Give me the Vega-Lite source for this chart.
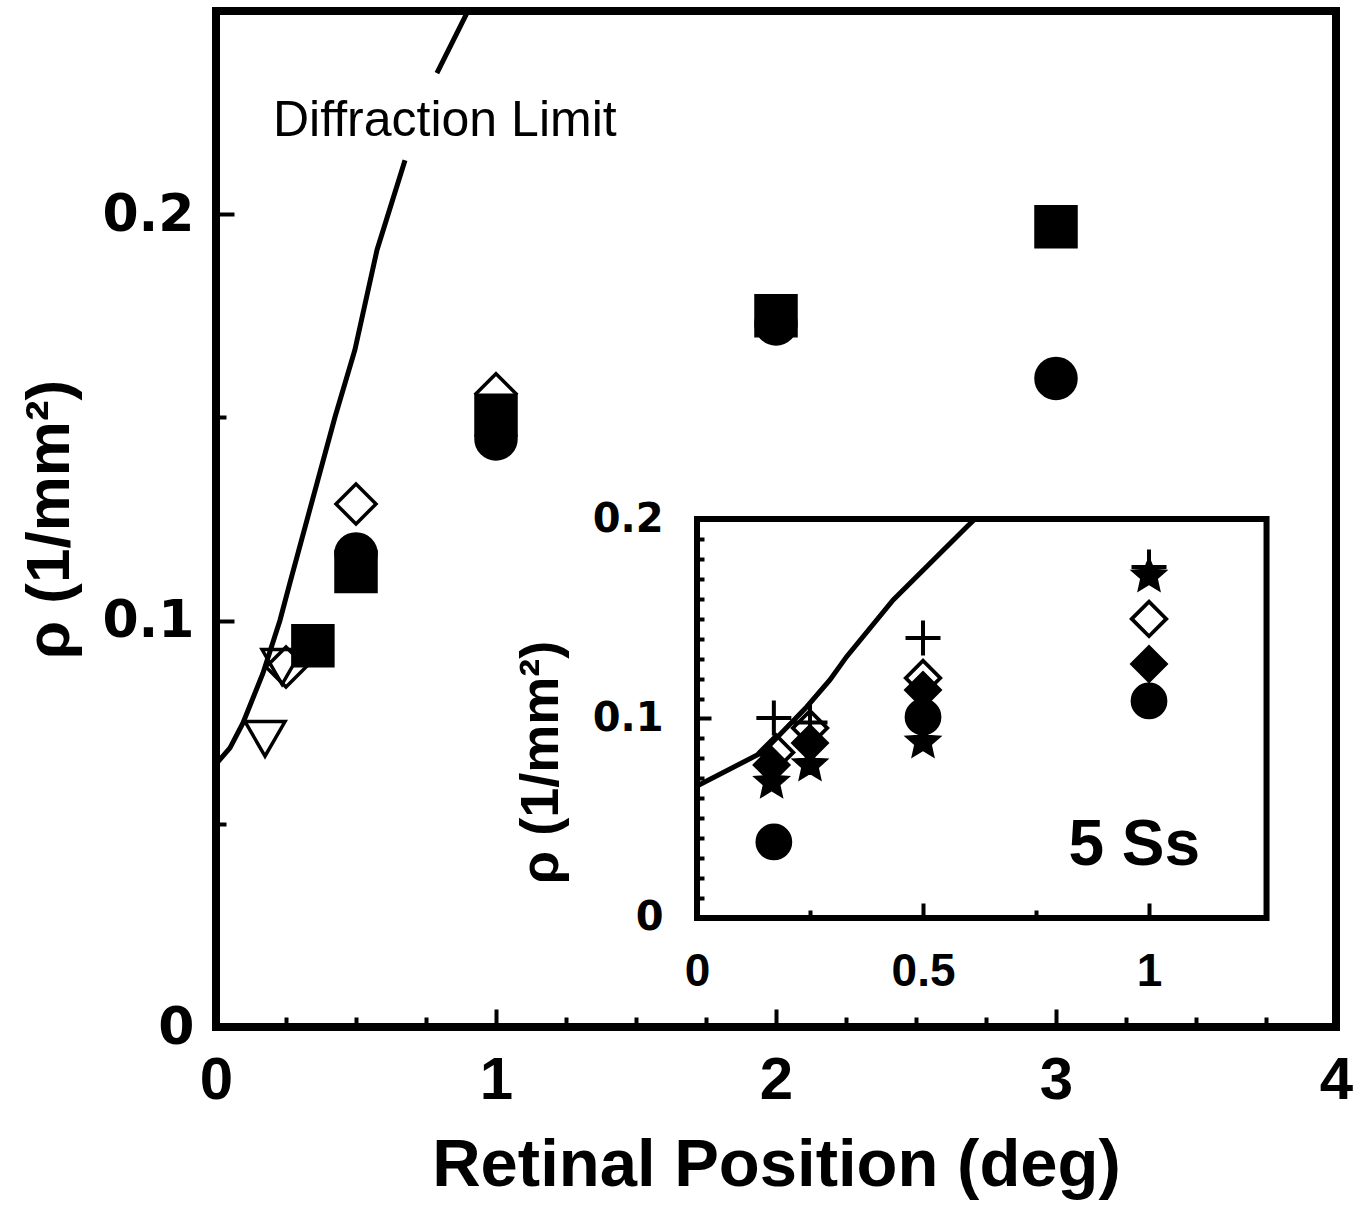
{
  "$schema": "https://vega.github.io/schema/vega-lite/v6.json",
  "width": 1120,
  "height": 1016,
  "autosize": "none",
  "padding": {"left": 216, "top": 11, "right": 32, "bottom": 184},
  "background": "white",
  "config": {
    "view": {"stroke": "black", "strokeWidth": 8},
    "axis": {"grid": false, "domain": false, "tickColor": "black", "labelColor": "black", "titleColor": "black", "tickWidth": 4, "labelOverlap": false, "labelFlush": false}
  },
  "datasets": {
    "diffr": [
      {"x": 0, "y": 0.0647, "seg": "a"},
      {"x": 0.05, "y": 0.0687, "seg": "a"},
      {"x": 0.0964, "y": 0.0748, "seg": "a"},
      {"x": 0.168, "y": 0.0871, "seg": "a"},
      {"x": 0.2286, "y": 0.1001, "seg": "a"},
      {"x": 0.264, "y": 0.1093, "seg": "a"},
      {"x": 0.361, "y": 0.1339, "seg": "a"},
      {"x": 0.425, "y": 0.1501, "seg": "a"},
      {"x": 0.496, "y": 0.1666, "seg": "a"},
      {"x": 0.575, "y": 0.1912, "seg": "a"},
      {"x": 0.675, "y": 0.2133, "seg": "a"},
      {"x": 0.789, "y": 0.2347, "seg": "b"},
      {"x": 0.896, "y": 0.2495, "seg": "b"},
      {"x": 0.902, "y": 0.25, "seg": "b"}
    ],
    "mainLabel": [{"x": 0.2036, "y": 0.2192, "t": "Diffraction Limit"}],
    "mainPts": [
      {"s": "tri", "x": 0.175, "y": 0.0709},
      {"s": "tri", "x": 0.236, "y": 0.0886},
      {"s": "odia", "x": 0.25, "y": 0.0886},
      {"s": "odia", "x": 0.5, "y": 0.1287},
      {"s": "odia", "x": 1.0, "y": 0.1558},
      {"s": "circ", "x": 0.5, "y": 0.1164},
      {"s": "circ", "x": 1.0, "y": 0.1447},
      {"s": "circ", "x": 2.0, "y": 0.173},
      {"s": "circ", "x": 3.0, "y": 0.1596},
      {"s": "sq", "x": 0.346, "y": 0.0938},
      {"s": "sq", "x": 0.5, "y": 0.1121},
      {"s": "sq", "x": 1.0, "y": 0.1505},
      {"s": "sq", "x": 2.0, "y": 0.175},
      {"s": "sq", "x": 3.0, "y": 0.1969}
    ],
    "insetFrame": [{"x": 0, "x2": 1.26, "y": 0, "y2": 0.2}],
    "insetLine": [
      {"x": 0, "y": 0.0662},
      {"x": 0.146, "y": 0.0832},
      {"x": 0.243, "y": 0.1059},
      {"x": 0.294, "y": 0.1193},
      {"x": 0.331, "y": 0.131},
      {"x": 0.434, "y": 0.1594},
      {"x": 0.597, "y": 0.1961},
      {"x": 0.615, "y": 0.2}
    ],
    "insetPts": [
      {"s": "plus", "x": 0.17, "y": 0.1003},
      {"s": "plus", "x": 0.25, "y": 0.098},
      {"s": "plus", "x": 0.5, "y": 0.1404},
      {"s": "plus", "x": 1.0, "y": 0.176},
      {"s": "odia", "x": 0.175, "y": 0.083},
      {"s": "odia", "x": 0.25, "y": 0.0952},
      {"s": "odia", "x": 0.5, "y": 0.1203},
      {"s": "odia", "x": 1.0, "y": 0.1499},
      {"s": "fdia", "x": 0.165, "y": 0.0767},
      {"s": "fdia", "x": 0.25, "y": 0.0877},
      {"s": "fdia", "x": 0.5, "y": 0.1143},
      {"s": "fdia", "x": 1.0, "y": 0.1273},
      {"s": "circ", "x": 0.17, "y": 0.0381},
      {"s": "circ", "x": 0.5, "y": 0.1008},
      {"s": "circ", "x": 1.0, "y": 0.1088},
      {"s": "star", "x": 0.165, "y": 0.068},
      {"s": "star", "x": 0.25, "y": 0.0767},
      {"s": "star", "x": 0.5, "y": 0.0882},
      {"s": "star", "x": 1.0, "y": 0.1714}
    ],
    "insetLabel": [{"x": 1.113, "y": 0.0266, "t": "5 Ss"}]
  },
  "layer": [
    {
      "encoding": {
        "x": {
          "field": "x", "type": "quantitative",
          "scale": {"domain": [0, 4], "nice": false, "zero": false},
          "axis": {
            "orient": "bottom",
            "values": [0, 0.25, 0.5, 0.75, 1, 1.25, 1.5, 1.75, 2, 2.25, 2.5, 2.75, 3, 3.25, 3.5, 3.75, 4],
            "labelExpr": "datum.value % 1 === 0 ? format(datum.value, 'd') : ''",
            "tickSize": {"condition": {"test": "datum.value % 1 === 0", "value": -18}, "value": -10},
            "labelFont": "Liberation Sans", "labelFontWeight": "bold", "labelFontSize": 60, "labelPadding": 42,
            "title": "Retinal Position (deg)", "titleFont": "Liberation Sans", "titleFontWeight": "bold", "titleFontSize": 67, "titlePadding": 14,
            "zindex": 1
          }
        },
        "y": {
          "field": "y", "type": "quantitative",
          "scale": {"domain": [0, 0.25], "nice": false, "zero": false},
          "axis": {
            "orient": "left",
            "values": [0, 0.05, 0.1, 0.15, 0.2],
            "labelExpr": "datum.value === 0 ? '0' : (datum.value === 0.1 ? '0.1' : (datum.value === 0.2 ? '0.2' : ''))",
            "tickSize": {"condition": {"test": "datum.value === 0.05 || datum.value === 0.15", "value": -10}, "value": -18},
            "labelFont": "DejaVu Sans", "labelFontWeight": "bold", "labelFontSize": 52, "labelPadding": 40,
            "title": "ρ (1/mm²)", "titleFont": "Liberation Sans", "titleFontWeight": "bold", "titleFontSize": 62, "titlePadding": 20,
            "zindex": 1
          }
        }
      },
      "layer": [
        {
          "data": {"name": "diffr"},
          "mark": {"type": "line", "color": "black", "strokeWidth": 5},
          "encoding": {"detail": {"field": "seg", "type": "nominal"}}
        },
        {
          "data": {"name": "mainLabel"},
          "mark": {"type": "text", "align": "left", "baseline": "alphabetic", "font": "Liberation Sans", "fontSize": 50, "color": "black"},
          "encoding": {"text": {"field": "t", "type": "nominal"}}
        },
        {
          "data": {"name": "mainPts"},
          "mark": {"type": "point", "filled": true, "stroke": "black", "strokeWidth": 3.5, "opacity": 1},
          "encoding": {
            "shape": {"field": "s", "type": "nominal", "legend": null,
              "scale": {"domain": ["tri", "odia", "circ", "sq"], "range": ["triangle-down", "diamond", "circle", "square"]}},
            "fill": {"field": "s", "type": "nominal", "legend": null,
              "scale": {"domain": ["tri", "odia", "circ", "sq"], "range": ["transparent", "transparent", "black", "black"]}},
            "size": {"field": "s", "type": "nominal", "legend": null,
              "scale": {"domain": ["tri", "odia", "circ", "sq"], "range": [1600, 1600, 2025, 1936]}}
          }
        }
      ]
    },
    {
      "encoding": {
        "x": {
          "field": "x", "type": "quantitative",
          "scale": {"domain": [-1.0642, 1.4137], "nice": false, "zero": false},
          "axis": {
            "orient": "bottom", "offset": -109,
            "values": [0, 0.25, 0.5, 0.75, 1],
            "labelExpr": "datum.value === 0.25 || datum.value === 0.75 ? '' : (datum.value === 0.5 ? '0.5' : format(datum.value, 'd'))",
            "tickSize": {"condition": {"test": "datum.value === 0.25 || datum.value === 0.75", "value": -8}, "value": -15},
            "labelFont": "Liberation Sans", "labelFontWeight": "bold", "labelFontSize": 46, "labelPadding": 46,
            "title": null, "zindex": 2
          }
        },
        "y": {
          "field": "y", "type": "quantitative",
          "scale": {"domain": [-0.05464, 0.45464], "nice": false, "zero": false},
          "axis": {
            "orient": "left", "offset": -481,
            "values": [0, 0.01, 0.02, 0.03, 0.04, 0.05, 0.06, 0.07, 0.08, 0.09, 0.1, 0.11, 0.12, 0.13, 0.14, 0.15, 0.16, 0.17, 0.18, 0.19, 0.2],
            "labelExpr": "datum.value === 0 ? '0' : (datum.value === 0.1 ? '0.1' : (datum.value === 0.2 ? '0.2' : ''))",
            "tickSize": {"condition": {"test": "datum.value === 0 || datum.value === 0.1 || datum.value === 0.2", "value": -14}, "value": -7},
            "labelFont": "DejaVu Sans", "labelFontWeight": "bold", "labelFontSize": 40, "labelPadding": 48,
            "title": "ρ (1/mm²)", "titleFont": "Liberation Sans", "titleFontWeight": "bold", "titleFontSize": 54, "titlePadding": 24, "titleY": 751,
            "zindex": 2
          }
        }
      },
      "layer": [
        {
          "data": {"name": "insetFrame"},
          "mark": {"type": "rect", "fill": "white", "stroke": "black", "strokeWidth": 6},
          "encoding": {"x2": {"field": "x2"}, "y2": {"field": "y2"}}
        },
        {
          "data": {"name": "insetLine"},
          "mark": {"type": "line", "color": "black", "strokeWidth": 5},
          "encoding": {}
        },
        {
          "data": {"name": "insetPts"},
          "mark": {"type": "point", "filled": true, "stroke": "black", "opacity": 1},
          "encoding": {
            "shape": {"field": "s", "type": "nominal", "legend": null,
              "scale": {"domain": ["plus", "odia", "fdia", "circ", "star"], "range": ["M-1,0L1,0M0,-1L0,1", "diamond", "diamond", "circle", "M0,-1L0.27,-0.35L0.951,-0.309L0.44,0.14L0.588,0.809L0,0.45L-0.588,0.809L-0.44,0.14L-0.951,-0.309L-0.27,-0.35Z"]}},
            "fill": {"field": "s", "type": "nominal", "legend": null,
              "scale": {"domain": ["plus", "odia", "fdia", "circ", "star"], "range": ["transparent", "transparent", "black", "black", "black"]}},
            "size": {"field": "s", "type": "nominal", "legend": null,
              "scale": {"domain": ["plus", "odia", "fdia", "circ", "star"], "range": [1225, 1089, 1024, 1024, 1513]}},
            "strokeWidth": {"field": "s", "type": "nominal", "legend": null,
              "scale": {"domain": ["plus", "odia", "fdia", "circ", "star"], "range": [4, 3, 1, 1, 1]}}
          }
        },
        {
          "data": {"name": "insetLabel"},
          "mark": {"type": "text", "align": "right", "baseline": "alphabetic", "font": "Liberation Sans", "fontWeight": "bold", "fontSize": 64, "color": "black"},
          "encoding": {"text": {"field": "t", "type": "nominal"}}
        }
      ]
    }
  ],
  "resolve": {
    "scale": {"x": "independent", "y": "independent", "shape": "independent", "fill": "independent", "size": "independent", "strokeWidth": "independent"},
    "axis": {"x": "independent", "y": "independent"}
  }
}
